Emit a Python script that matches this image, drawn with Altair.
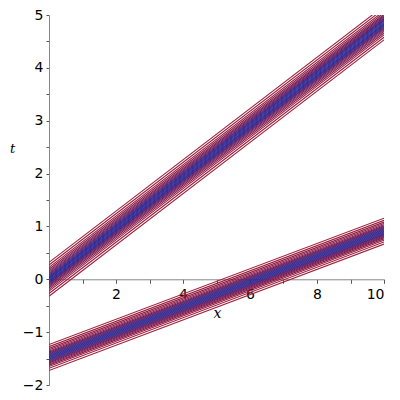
import altair as alt
import pandas as pd

# --- values ---
x_ends = [0, 10]
upper_center = [0.0, 4.85]      # centre line of the upper ridge at x=0 and x=10
lower_center = [-1.48, 0.91]    # centre line of the lower ridge at x=0 and x=10
# contour offsets (vertical, outer -> centre)
upper_offsets = [0.32, 0.27, 0.225, 0.19, 0.16, 0.135, 0.112, 0.092, 0.074, 0.056, 0.038, 0.02, 0.0]
lower_offsets = [0.245, 0.205, 0.172, 0.145, 0.122, 0.102, 0.085, 0.07, 0.056, 0.042, 0.028, 0.014, 0.0]
level_colors = ["#a3203c", "#9a1c3a", "#921a40", "#891a46", "#801c4e", "#761e58", "#6a2062",
                "#5e226c", "#522476", "#462680", "#3a288a", "#302a94", "#282c9c"]
x_ticks = [1, 2, 3, 4, 5, 6, 7, 8, 9, 10]
y_ticks = [-2, -1.5, -1, -0.5, 0, 0.5, 1, 1.5, 2, 2.5, 3, 3.5, 4, 4.5, 5]

rows = []
cid = 0
for band, centre, offs in (("u", upper_center, upper_offsets), ("l", lower_center, lower_offsets)):
    for i, off in enumerate(offs):
        signs = [1] if off == 0 else [1, -1]
        for s in signs:
            for xe, ce in zip(x_ends, centre):
                rows.append({"id": cid, "x": xe, "t": ce + s * off, "col": level_colors[i], "ord": i})
            cid += 1
df = pd.DataFrame(rows)

W, H = 335, 370
axis_font = "DejaVu Sans"

x_axis = alt.Axis(
    values=x_ticks, orient="bottom", offset=-H * 2 / 7,
    labelExpr="datum.value % 2 == 0 ? format(datum.value, 'd') : ''",
    grid=False, domainColor="#888888", tickColor="#555555", tickSize=4,
    labelFont=axis_font, labelFontSize=14, labelColor="#000000", labelPadding=4,
    title="x", titleFont="DejaVu Serif", titleFontStyle="italic", titleFontWeight="normal",
    titleFontSize=14, titleAngle=0, titleX=168, titleY=38, titleBaseline="alphabetic",
    titleAlign="center",
)
y_axis = alt.Axis(
    values=y_ticks, orient="left",
    labelExpr="datum.value % 1 == 0 ? replace(format(datum.value, 'd'), '-', '\u2212') : ''",
    grid=False, domainColor="#888888", tickColor="#555555", tickSize=3,
    labelFont=axis_font, labelFontSize=14, labelColor="#000000", labelPadding=3,
    title="t", titleFont="DejaVu Serif", titleFontStyle="italic", titleFontWeight="normal",
    titleFontSize=13, titleAngle=0, titleX=-37, titleY=133, titleBaseline="middle",
    titleAlign="center",
)

chart = alt.Chart(df).mark_line(strokeWidth=1.1, clip=True).encode(
    x=alt.X("x:Q", scale=alt.Scale(domain=[0, 10], nice=False, zero=False), axis=x_axis),
    y=alt.Y("t:Q", scale=alt.Scale(domain=[-2, 5], nice=False, zero=False), axis=y_axis),
    detail="id:N",
    color=alt.Color("col:N", scale=None),
    order="x:Q",
).properties(
    width=W, height=H, autosize="none",
    padding={"left": 41, "top": 7, "right": 8, "bottom": 12},
    background="white",
).configure_view(stroke=None)

chart.save("out.html", embed_options={"renderer": "svg", "actions": False})
